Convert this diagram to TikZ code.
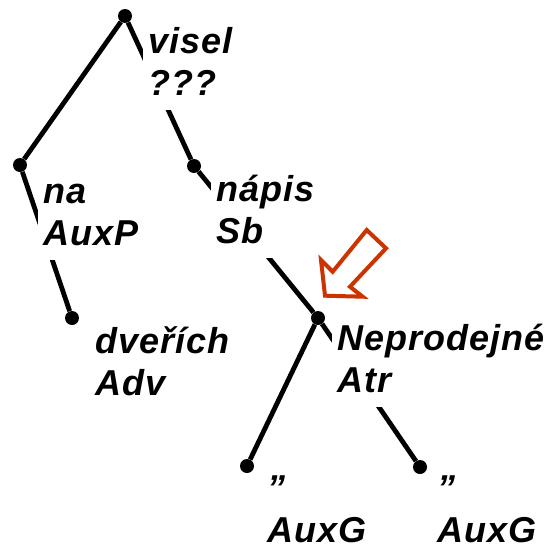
\documentclass[tikz,border=0pt]{standalone}
\usepackage{fontspec}
\setmainfont{Liberation Sans}[LetterSpace=3]
\pgfdeclarelayer{background}
\pgfsetlayers{background,main}
\definecolor{arrowred}{RGB}{204,51,0}
\tikzset{
  dot/.style={circle,fill=black,inner sep=0pt,minimum size=14pt},
  edge/.style={line width=4.8pt,black},
  lbl/.style={fill=white,anchor=north west,align=left,inner xsep=5pt,inner ysep=2pt,
    font=\fontsize{36}{42}\selectfont\bfseries\itshape},
}
\newcommand{\st}{\strut}
\begin{document}
\begin{tikzpicture}[x=1pt,y=-1pt]
\useasboundingbox (0,0) rectangle (549,549);
% tree nodes (dots)
\node[dot] (root) at (125,16) {};
\node[dot] (na) at (20,165) {};
\node[dot] (napis) at (194,166) {};
\node[dot] (dverich) at (72,318) {};
\node[dot] (neprod) at (318,318) {};
\node[dot] (qa) at (247,466) {};
\node[dot] (qb) at (420,467) {};
% edges
\begin{pgfonlayer}{background}
\draw[edge] (root) -- (na);
\draw[edge] (root) -- (napis);
\draw[edge] (na) -- (dverich);
\draw[edge] (napis) -- (neprod);
\draw[edge] (neprod) -- (qa);
\draw[edge] (neprod) -- (qb);
\end{pgfonlayer}
% labels
\node[lbl] (lroot) at (143,21.6) {\st visel\\\st ???};
\node[lbl] (lna) at (38,171.6) {\st na\\\st AuxP};
\node[lbl] (lnapis) at (211,169.6) {\st nápis\\\st Sb};
\node[lbl] (ldverich) at (90,321.6) {\st dveřích\\\st Adv};
\node[lbl] (lneprod) at (332,318.6) {\st Neprodejné\\\st Atr};
\node[lbl] (lqa) at (262,468.6) {\st ”\\\st AuxG};
\node[lbl] (lqb) at (432,468.6) {\st ”\\\st AuxG};
% red hollow arrow
\draw[arrowred,line width=4pt,line join=miter]
  (366.7,230) -- (386,248.3) -- (350,286.7) -- (362.7,296.7) -- (325,295.7)
  -- (321,260) -- (332.7,271.7) -- cycle;
\end{tikzpicture}
\end{document}
